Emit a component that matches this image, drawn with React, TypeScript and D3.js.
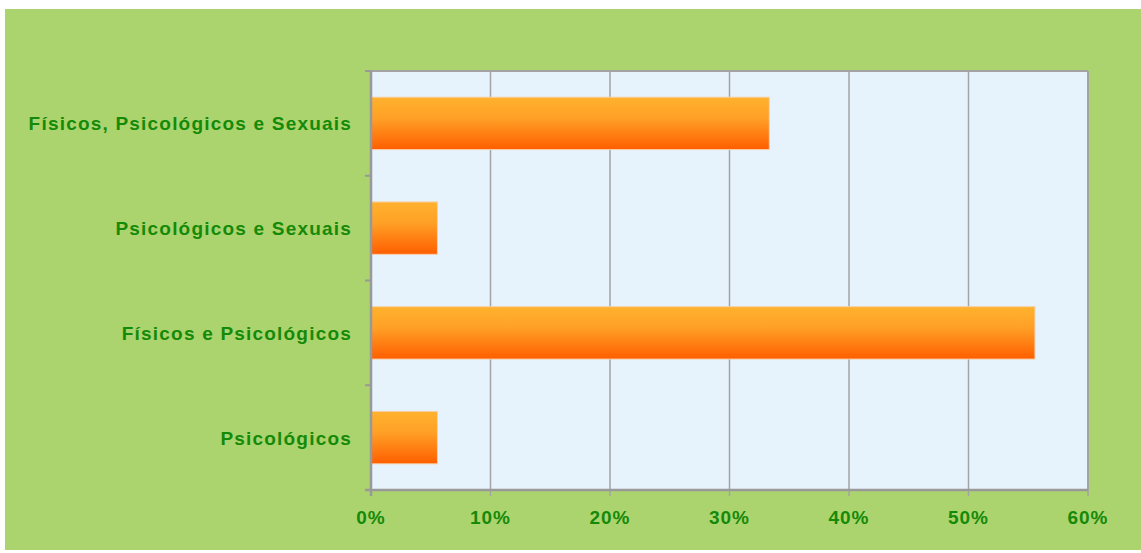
import * as d3 from "d3";

const categories = [
  "Físicos, Psicológicos e Sexuais",
  "Psicológicos e Sexuais",
  "Físicos e Psicológicos",
  "Psicológicos",
];
const values = [33.33, 5.56, 55.56, 5.56];
const xTicks = [0, 10, 20, 30, 40, 50, 60];

const W = 1141;
const H = 553;
const plot = { left: 371, right: 1088, top: 71, bottom: 490 };
const textColor = "#158a08";
const gridColor = "#a3a3a3";

export default function App() {
  const x = d3.scaleLinear().domain([0, 60]).range([plot.left, plot.right]);
  const y = d3
    .scaleBand()
    .domain(categories)
    .range([plot.top, plot.bottom])
    .paddingInner(0.5)
    .paddingOuter(0.25);
  const step = y.step();
  const bounds = d3.range(categories.length + 1).map((i) => plot.top + i * step);

  return (
    <svg
      width={W}
      height={H}
      style={{ position: "absolute", left: 0, top: 0 }}
      fontFamily="'Liberation Sans', Arial, sans-serif"
    >
      <defs>
        <linearGradient id="barGrad" x1="0" y1="0" x2="0" y2="1">
          <stop offset="0%" stopColor="#ffb22e" />
          <stop offset="40%" stopColor="#ffa026" />
          <stop offset="100%" stopColor="#ff5e00" />
        </linearGradient>
      </defs>
      <rect x={0} y={0} width={W} height={H} fill="#ffffff" />
      <rect x={5} y={9} width={W - 5} height={541} fill="#acd46e" />
      <rect
        x={plot.left}
        y={plot.top}
        width={plot.right - plot.left}
        height={plot.bottom - plot.top}
        fill="#e7f3fc"
      />
      {xTicks.slice(1).map((t) => (
        <line
          key={t}
          x1={x(t)}
          x2={x(t)}
          y1={plot.top}
          y2={plot.bottom + 6}
          stroke={gridColor}
          strokeWidth={1.5}
        />
      ))}
      {categories.map((c, i) => (
        <rect
          key={c}
          x={x(0)}
          y={y(c)}
          width={x(values[i]) - x(0)}
          height={y.bandwidth()}
          fill="url(#barGrad)"
          stroke="#f7cfa6"
          strokeWidth={1}
        />
      ))}
      <line x1={plot.left} x2={plot.right} y1={plot.top} y2={plot.top} stroke={gridColor} strokeWidth={2} />
      <line x1={plot.right} x2={plot.right} y1={plot.top} y2={plot.bottom} stroke={gridColor} strokeWidth={2} />
      <line x1={plot.left} x2={plot.left} y1={plot.top} y2={plot.bottom + 6} stroke="#999999" strokeWidth={2.5} />
      <line x1={plot.left - 6} x2={plot.right} y1={plot.bottom} y2={plot.bottom} stroke="#999999" strokeWidth={2.5} />
      {bounds.map((b, i) => (
        <line key={i} x1={plot.left - 6} x2={plot.left} y1={b} y2={b} stroke="#999999" strokeWidth={2} />
      ))}
      {xTicks.map((t) => (
        <text
          key={t}
          x={x(t)}
          y={524}
          textAnchor="middle"
          fontSize={19}
          fontWeight="bold"
          letterSpacing={1}
          fill={textColor}
        >
          {t}%
        </text>
      ))}
      {categories.map((c) => (
        <text
          key={c}
          x={352}
          y={(y(c) ?? 0) + y.bandwidth() / 2 + 7}
          textAnchor="end"
          fontSize={19}
          fontWeight="bold"
          letterSpacing={1.2}
          fill={textColor}
        >
          {c}
        </text>
      ))}
    </svg>
  );
}
